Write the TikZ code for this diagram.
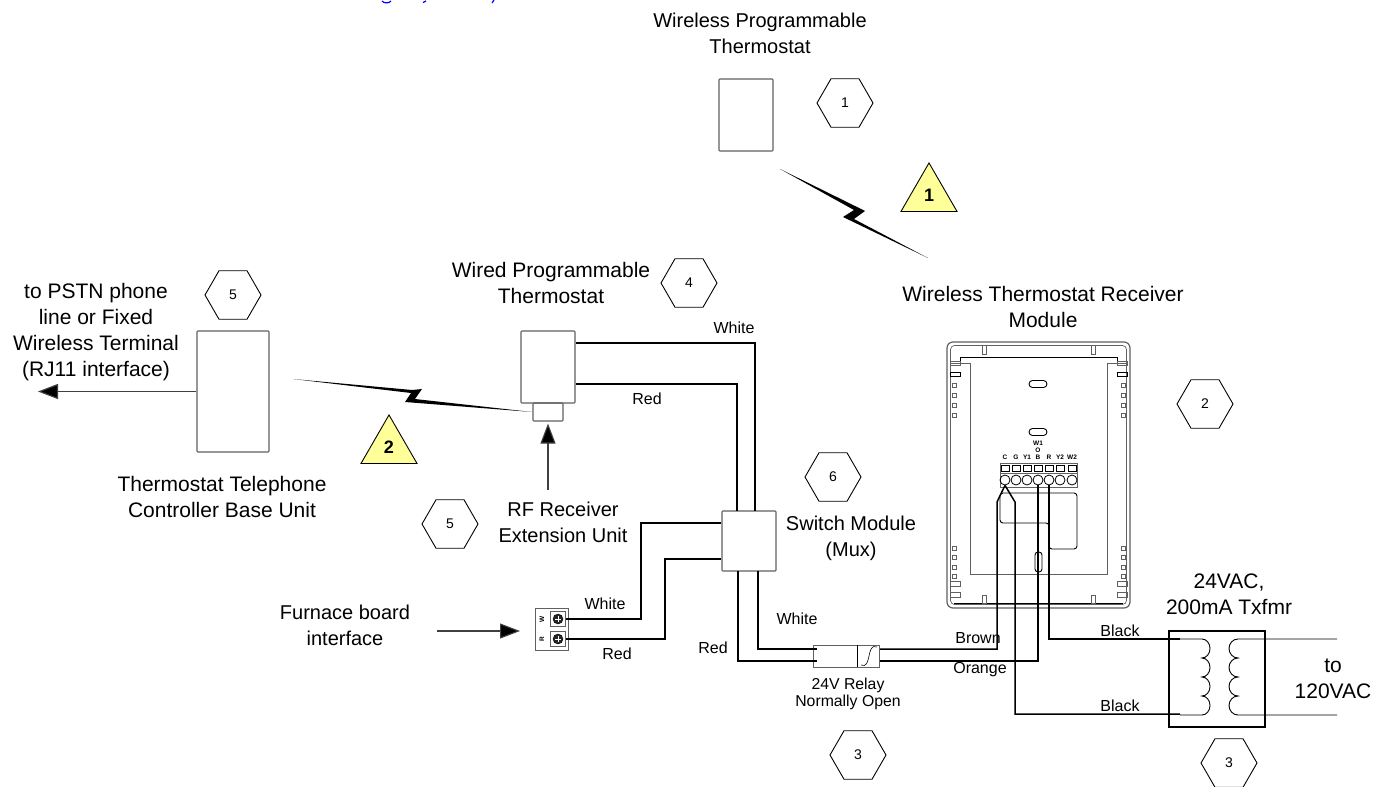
\documentclass[tikz,border=0pt]{standalone}
\usepackage{fontspec}
\setmainfont{Liberation Sans}
\usetikzlibrary{shapes.geometric,arrows.meta,positioning}
\definecolor{notecolor}{HTML}{FFFF99}
\definecolor{boxline}{HTML}{606060}
\tikzset{
  txt/.style={align=center,font=\fontsize{21}{26}\selectfont,inner sep=0pt},
  txtb/.style={align=center,font=\fontsize{20}{26}\selectfont,inner sep=0pt},
  lbl/.style={font=\fontsize{16}{16}\selectfont,inner sep=0pt},
  hexnum/.style={regular polygon,regular polygon sides=6,draw,line width=.9pt,inner sep=0pt,minimum size=56pt,font=\fontsize{14}{14}\selectfont},
  trinote/.style={regular polygon,regular polygon sides=3,draw,line width=.9pt,fill=notecolor,inner sep=0pt,minimum size=64.7pt,font=\bfseries\fontsize{18}{18}\selectfont},
  unit/.style={draw=boxline,line width=1.1pt,rounded corners=.8pt,inner sep=0pt},
  wire/.style={line width=1.5pt},
  feed/.style={draw=black!75,line width=1.1pt,-{Triangle[length=20pt,width=15pt,fill=black]}},
  bolt/.style={fill=black,draw=none},
  modgray/.style={draw=boxline,line width=.7pt},
  modline/.style={draw=black,line width=.9pt},
  tinylbl/.style={font=\bfseries\fontsize{6.5}{6.5}\selectfont,inner sep=0pt},
}
\begin{document}
\begin{tikzpicture}[x=1pt,y=-1pt]
  \useasboundingbox (0,0) rectangle (1382,787);
  % cut line at the top
  \draw[blue,line width=1.2pt] (382,1) .. controls (384,3.5) and (389,3.5) .. (391,1) (423,2.5) -- (426,1) (492,3) -- (494,0);
  % wireless thermostat
  \node[txtb] (wirelesstxt) at (760,33) {Wireless Programmable\\Thermostat};
  \node[unit,minimum width=54pt,minimum height=72pt] (wireless) at (746,115) {};
  \node[hexnum] (hexa) at (845,103) {1};
  \node[trinote] (noteone) at (929,195.3) {1};
  \fill[bolt] (780,169) -- (855,206) -- (865,211) -- (854,219) -- (928,258) -- (843,217) -- (854,210) -- cycle;
  % receiver module
  \node[txt] (receivertxt) at (1043,307) {Wireless Thermostat Receiver\\Module};
  \node[hexnum] (hexb) at (1205,404) {2};
  \draw[draw=boxline,line width=1.2pt,rounded corners=6pt] (947,342) rectangle (1130,608);
  \draw[modgray,rounded corners=4pt] (950.5,345.5) rectangle (1126.5,604.5);
  \draw[modline] (960,363) -- (960,357) -- (1117,357) -- (1117,363);
  \draw[modline] (954,603) -- (1123,603);
  \draw[modgray] (950,363) -- (970,363) -- (970,574) -- (1107,574) -- (1107,363) -- (1127,363);
  \foreach \x in {982,1091} {
    \draw[modgray] (\x,345) rectangle +(4,9);
    \draw[modgray] (\x,595) rectangle +(4,8);
  }
  \foreach \x in {950,1117} {
    \draw[modgray] (\x,361) rectangle +(10,4);
    \draw[modline] (\x,372) rectangle +(10,4);
    \draw[modgray] (\x,581) rectangle +(10,5);
    \draw[modgray] (\x,592) rectangle +(10,5);
  }
  \foreach \y in {383,393,403,413,546,555,565,574} {
    \draw[modgray] (952,\y) rectangle +(4,4);
    \draw[modgray] (1121,\y) rectangle +(4,4);
  }
  \draw[modline,rounded corners=3.5pt] (1029,380.5) rectangle (1047,387.5);
  \draw[modline,rounded corners=3.5pt] (1029,428.5) rectangle (1047,435.5);
  \draw[modline,rounded corners=3pt] (1035,552) rectangle (1042,572);
  \draw[modline,rounded corners=3pt] (1000,493) -- (1077,493) -- (1077,549) -- (1049,549) -- (1049,523) -- (1000,523) -- cycle;
  \draw[modgray] (1000,463) rectangle (1077,487);
  \draw[modgray] (1000,473) -- (1077,473);
  \node[tinylbl] (lblwa) at (1038,443) {W1};
  \node[tinylbl] (lblo) at (1038,450) {O};
  \foreach \x/\t/\n in {1005/C/c,1016/G/g,1027/Y1/ya,1038/B/b,1049/R/r,1060/Y2/yb,1072/W2/wb} {
    \node[tinylbl] (lbl\n) at (\x,457.5) {\t};
    \draw[modline,line width=.5pt] (\x-4,465) rectangle (\x+4,471);
    \node[circle,draw,line width=.8pt,inner sep=0pt,minimum size=10pt] (term\n) at (\x,480) {};
  }
  % wired thermostat
  \node[txt] (wiredtxt) at (551,283) {Wired Programmable\\Thermostat};
  \node[hexnum] (hexd) at (689,283) {4};
  \node[unit,minimum width=54pt,minimum height=72pt] (wired) at (548,367) {};
  \node[unit,minimum width=30pt,minimum height=18pt] (rfunit) at (548,412) {};
  \coordinate (rfarrow) at (548,490);
  \draw[feed,shorten >=2pt] (rfarrow) -- (rfunit.south);
  \node[txtb] (rftxt) at (563,522) {RF Receiver\\Extension Unit};
  \node[hexnum] (hexf) at (450,524) {5};
  % base unit
  \node[unit,minimum width=72pt,minimum height=121pt] (base) at (233,391.5) {};
  \node[hexnum] (hexe) at (233,295) {5};
  \node[txt] (psttxt) at (96,332) {to PSTN phone\\line or Fixed\\Wireless Terminal\\(RJ11 interface)};
  \node[txt] (basetxt) at (222,497) {Thermostat Telephone\\Controller Base Unit};
  \coordinate (phoneline) at (38,391.5);
  \draw[feed] (base.west) -- (phoneline);
  \node[trinote] (notetwo) at (389,447.3) {2};
  \fill[bolt] (293,379) -- (412,390) -- (422,389) -- (415,399) -- (532,412) -- (405,402) -- (411,393) -- cycle;
  % switch module
  \node[unit,minimum width=54pt,minimum height=60pt] (switch) at (749,541) {};
  \node[hexnum] (hexg) at (833,477) {6};
  \node[txtb] (switchtxt) at (851,538) {Switch Module\\(Mux)};
  \draw[wire] (wired.east |- 0,343) -- (755,343) -- (755,511);
  \draw[wire] (wired.east |- 0,384) -- (737,384) -- (737,511);
  % furnace board
  \node[txtb] (furnacetxt) at (345,625) {Furnace board\\interface};
  \node[draw=boxline,line width=1pt,minimum width=33pt,minimum height=42pt,inner sep=0pt] (furnace) at (551.5,629) {};
  \foreach \y/\t/\n in {619/W/w,639/R/r} {
    \node[draw=boxline,line width=.7pt,minimum size=15pt,inner sep=0pt] (scr\n) at (558,\y) {};
    \node[circle,draw,fill=black!85,minimum size=10pt,inner sep=0pt] (screw\n) at (558,\y) {};
    \draw[white,line width=1pt] (555,\y) -- (561,\y) (558,\y-3) -- (558,\y+3);
    \node[tinylbl,rotate=90] (ter\n) at (542,\y) {\t};
  }
  \coordinate (furnacein) at (437,631);
  \coordinate (furnacetip) at (520,631);
  \draw[feed] (furnacein) -- (furnacetip);
  \draw[wire] (scrw.east) -- (641,619) -- (641,523) -- (switch.west |- 0,523);
  \draw[wire] (scrr.east) -- (665,639) -- (665,559) -- (switch.west |- 0,559);
  % relay
  \node[draw=boxline,line width=1pt,minimum width=66pt,minimum height=22pt,inner sep=0pt] (relay) at (846,656) {};
  \draw[line width=.8pt] (857,645) -- (857,667);
  \draw[line width=.6pt] (861,665) .. controls (872,670) and (866,642) .. (877,647);
  \node[font=\fontsize{15.8}{17.5}\selectfont,align=center,inner sep=0pt] (relaytxt) at (848,694) {24V Relay\\Normally Open};
  \node[hexnum] (hexc) at (858,755) {3};
  \draw[wire] (738,571) -- (738,661) -- (817,661);
  \draw[wire] (758,571) -- (758,649) -- (817,649);
  % output wires
  \draw[wire] (880,649) -- (997,649) -- (997,502) -- (termc.south);
  \draw[wire] (880,661) -- (1038,661) -- (termb.south);
  \draw[wire] (1180,714) -- (1015,714) -- (1015,502) -- (termc.south);
  \draw[wire] (1180,639) -- (1049,639) -- (termr.south);
  % transformer
  \node[txt] (txfmrtxt) at (1229,594) {24VAC,\\200mA Txfmr};
  \node[draw,line width=2.5pt,minimum size=96pt,inner sep=0pt] (txfmr) at (1217,679) {};
  \node[hexnum] (hexh) at (1229,763) {3};
  \draw[line width=.9pt] (1180,639) -- (1202,639) arc (-90:90:8 and 9.5) arc (-90:90:8 and 9.5) arc (-90:90:8 and 9.5) arc (-90:90:8 and 9.5) -- (1180,715);
  \draw[line width=.9pt] (1337,639) -- (1238,639) arc (270:90:9 and 9.5) arc (270:90:9 and 9.5) arc (270:90:9 and 9.5) arc (270:90:9 and 9.5) -- (1337,715);
  \node[txt] (acvtxt) at (1333,679) {to\\120VAC};
  % wire labels
  \foreach \x/\y/\t/\n in {734/328/White/a,647/399/Red/b,605/604/White/c,617/654/Red/d,713/648/Red/e,797/619/White/f,978/638/Brown/g,980/670/Orange/h,1120/631/Black/i,1120/706/Black/j}
    \node[lbl] (wl\n) at (\x,\y) {\t};
\end{tikzpicture}
\end{document}
